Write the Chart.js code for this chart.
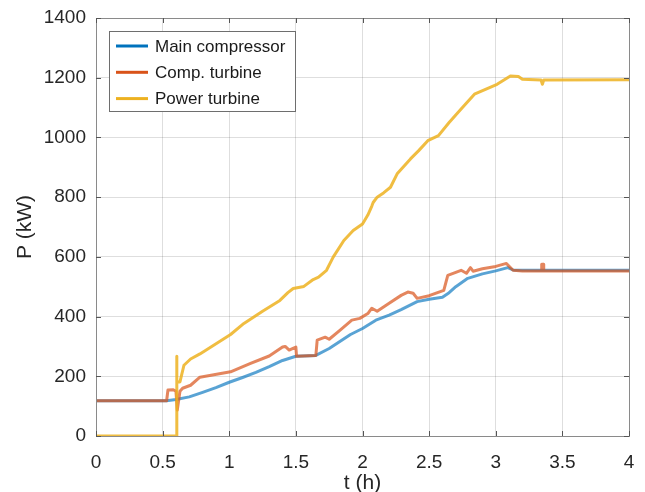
<!DOCTYPE html>
<html>
<head>
<meta charset="utf-8">
<script src="https://cdn.jsdelivr.net/npm/chart.js@4.4.1/dist/chart.umd.min.js"></script>
<style>
  html, body { margin: 0; padding: 0; background: #fff; }
  #wrap { width: 645px; height: 492px; }
</style>
</head>
<body>
<div id="wrap"><canvas id="potChart" width="645" height="492"></canvas></div>
<script>
// series (t en horas, P en kW)
const seriesNames = ['Main compressor', 'Comp. turbine', 'Power turbine'];

const tMain = [0, 0.53, 0.6, 0.7, 0.8, 0.9, 1.0, 1.1, 1.2, 1.3, 1.4, 1.5, 1.65, 1.75, 1.91, 2.0, 2.1, 2.2, 2.29, 2.41, 2.5, 2.6, 2.65, 2.7, 2.79, 2.9, 3.0, 3.09, 3.13, 3.3, 3.5, 4.0];
const pMain = [118, 118, 122, 131, 146, 162, 180, 196, 213, 232, 253, 267, 270, 293, 340, 360, 388, 405, 423, 450, 458, 465, 480, 500, 528, 543, 553, 564, 556, 555, 555, 555];

const tComp = [0, 0.53, 0.54, 0.58, 0.6, 0.61, 0.63, 0.65, 0.71, 0.78, 1.01, 1.16, 1.3, 1.4, 1.42, 1.45, 1.47, 1.5, 1.505, 1.65, 1.66, 1.72, 1.75, 1.83, 1.92, 1.98, 2.04, 2.07, 2.11, 2.2, 2.29, 2.34, 2.38, 2.41, 2.5, 2.61, 2.64, 2.7, 2.74, 2.78, 2.81, 2.83, 2.9, 3.0, 3.08, 3.13, 3.2, 3.34, 3.345, 3.355, 3.36, 4.0];
const pComp = [118, 118, 154, 155, 150, 87, 150, 160, 170, 197, 215, 243, 268, 298, 300, 288, 292, 298, 267, 270, 321, 331, 324, 354, 388, 394, 410, 428, 418, 445, 471, 482, 478, 461, 470, 488, 538, 548, 555, 545, 564, 552, 560, 568, 578, 555, 553, 553, 575, 575, 553, 553];

const tPower = [0, 0.605, 0.606, 0.607, 0.63, 0.66, 0.71, 0.78, 1.01, 1.11, 1.25, 1.38, 1.44, 1.48, 1.56, 1.63, 1.67, 1.73, 1.78, 1.86, 1.93, 2.0, 2.04, 2.07, 2.08, 2.11, 2.16, 2.21, 2.26, 2.36, 2.42, 2.49, 2.57, 2.65, 2.74, 2.84, 3.01, 3.11, 3.17, 3.2, 3.34, 3.35, 3.36, 4.0];
const pPower = [0, 0, 267, 181, 181, 237, 258, 275, 340, 377, 418, 454, 480, 494, 501, 524, 532, 555, 599, 655, 688, 710, 740, 770, 782, 800, 815, 833, 878, 928, 955, 989, 1006, 1050, 1095, 1145, 1178, 1206, 1204, 1195, 1192, 1178, 1192, 1193];

const xTicks = [0, 0.5, 1, 1.5, 2, 2.5, 3, 3.5, 4];
const yTicks = [0, 200, 400, 600, 800, 1000, 1200, 1400];

const colores = ['#0072BD', '#D95319', '#EDB120'];
const coloresLinea = ['rgba(0,114,189,0.65)', 'rgba(217,83,25,0.7)', 'rgba(237,177,32,0.85)'];

const FUENTE = "'Liberation Sans', Arial, sans-serif";

function puntos(ts, ps) {
    return ts.map((t, i) => ({ x: t, y: ps[i] }));
}

// marco, ticks hacia adentro y leyenda dentro del area
const marcoPlugin = {
    id: 'marco',
    afterDraw(chart) {
        const c = chart.ctx;
        const a = chart.chartArea;
        const sx = chart.scales.x, sy = chart.scales.y;
        c.save();
        c.strokeStyle = '#8a8a8a';
        c.lineWidth = 1;
        c.strokeRect(a.left + 0.5, a.top + 0.5, a.right - a.left, a.bottom - a.top);
        c.strokeStyle = '#555';
        c.beginPath();
        xTicks.forEach(v => {
            const px = Math.round(sx.getPixelForValue(v)) + 0.5;
            c.moveTo(px, a.bottom); c.lineTo(px, a.bottom - 5);
            c.moveTo(px, a.top); c.lineTo(px, a.top + 5);
        });
        yTicks.forEach(v => {
            const py = Math.round(sy.getPixelForValue(v)) + 0.5;
            c.moveTo(a.left, py); c.lineTo(a.left + 5, py);
            c.moveTo(a.right, py); c.lineTo(a.right - 5, py);
        });
        c.stroke();

        // leyenda
        const lx = 109, ly = 31, lw = 186, lh = 80;
        c.fillStyle = '#fff';
        c.fillRect(lx, ly, lw, lh);
        c.strokeStyle = '#6e6e6e';
        c.strokeRect(lx + 0.5, ly + 0.5, lw, lh);
        c.font = '17px ' + FUENTE;
        c.textBaseline = 'middle';
        c.textAlign = 'left';
        seriesNames.forEach((n, i) => {
            const y = ly + 15 + i * 26.3;
            c.strokeStyle = colores[i];
            c.lineWidth = 3;
            c.beginPath();
            c.moveTo(116, y); c.lineTo(148, y);
            c.stroke();
            c.fillStyle = '#1a1a1a';
            c.fillText(n, 155, y + 1);
        });
        c.restore();
    }
};

const ctx = document.getElementById('potChart').getContext('2d');
const potChart = new Chart(ctx, {
    type: 'line',
    data: {
        datasets: [
            { label: seriesNames[0], data: puntos(tMain, pMain), borderColor: coloresLinea[0], order: 3 },
            { label: seriesNames[1], data: puntos(tComp, pComp), borderColor: coloresLinea[1], order: 2 },
            { label: seriesNames[2], data: puntos(tPower, pPower), borderColor: coloresLinea[2], order: 1 }
        ]
    },
    options: {
        responsive: false,
        animation: false,
        devicePixelRatio: 1,
        layout: { padding: { top: 18, right: 16, left: 0, bottom: 0 } },
        elements: {
            point: { radius: 0 },
            line: { borderWidth: 3, tension: 0, fill: false, borderJoinStyle: 'round' }
        },
        plugins: {
            legend: { display: false },
            tooltip: { enabled: false }
        },
        scales: {
            x: {
                type: 'linear',
                min: 0, max: 4,
                afterBuildTicks: s => { s.ticks = xTicks.map(v => ({ value: v })); },
                afterFit: s => { s.height = 56; s.paddingLeft = 0; s.paddingRight = 0; },
                grid: { color: 'rgba(0,0,0,0.13)', drawTicks: false },
                border: { display: false },
                ticks: {
                    padding: 15,
                    color: '#262626',
                    font: { family: FUENTE, size: 19 },
                    maxRotation: 0,
                    callback: v => String(v)
                },
                title: {
                    display: true, text: 't (h)', color: '#262626',
                    font: { family: FUENTE, size: 21 },
                    padding: { top: 0, bottom: -4 }
                }
            },
            y: {
                min: 0, max: 1400,
                afterBuildTicks: s => { s.ticks = yTicks.map(v => ({ value: v })); },
                afterFit: s => { s.width = 96; s.paddingTop = 0; s.paddingBottom = 0; },
                grid: { color: 'rgba(0,0,0,0.13)', drawTicks: false },
                border: { display: false },
                ticks: {
                    padding: 10,
                    color: '#262626',
                    font: { family: FUENTE, size: 19 },
                    callback: v => String(v)
                },
                title: {
                    display: true, text: 'P (kW)', color: '#262626',
                    font: { family: FUENTE, size: 21 },
                    padding: { top: 13, bottom: 0 }
                }
            }
        }
    },
    plugins: [marcoPlugin]
});
</script>
</body>
</html>
